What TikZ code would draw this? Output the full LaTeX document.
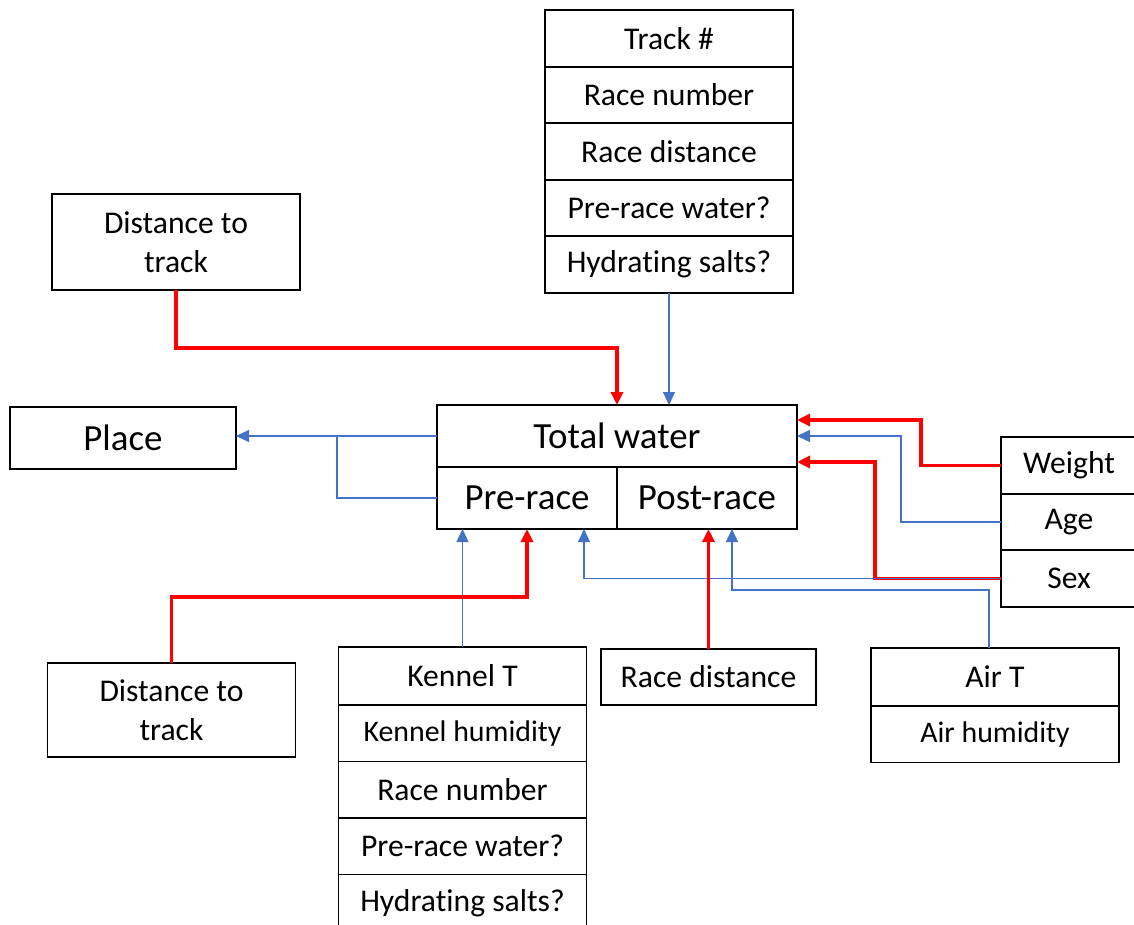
\documentclass[tikz,border=0pt]{standalone}
\usepackage{fontspec}
\setmainfont{Carlito}[Ligatures={NoCommon}]
\usetikzlibrary{arrows.meta, positioning, calc}

\definecolor{linkblue}{HTML}{4472C4}

\begin{document}
\begin{tikzpicture}[
  % Define styles for different elements
  box/.style={draw, line width=1.1pt, outer sep=0pt, minimum width=4.96cm, minimum height=1.13cm, inner sep=1pt, align=center, font=\fontsize{18}{22.5}\selectfont},
  bigbox/.style={box, font=\fontsize{21}{25}\selectfont, minimum height=1.24cm},
  redarrow/.style={-{Triangle[length=2.6mm, width=2.4mm]}, red, line width=2pt},
  bluearrow/.style={-{Triangle[length=2.6mm, width=2.4mm]}, linkblue, line width=0.7pt},
  blueline/.style={linkblue, line width=0.7pt}
]
\useasboundingbox (0,0) rectangle (22.68,-18.5);

% Top: race information
\node[box] (trackno) at (13.38,-0.77) {Track \#};
\node[box, below=0pt of trackno] (racenum) {Race number};
\node[box, below=0pt of racenum] (racedist) {Race distance};
\node[box, below=0pt of racedist] (prewater) {Pre-race water?};
\node[box, below=0pt of prewater] (hydsalts) {Hydrating salts?};

\node[box, minimum height=1.92cm] (disttop) at (3.52,-4.84) {Distance to\\track};

% Middle: outcomes
\node[bigbox, minimum width=4.52cm] (place) at (2.46,-8.76) {Place};
\node[bigbox, minimum width=7.2cm] (total) at (12.34,-8.72) {Total water};
\node[bigbox, minimum width=3.6cm, anchor=north west] (pre) at (total.south west) {Pre-race};
\node[bigbox, minimum width=3.6cm, anchor=north east] (post) at (total.south east) {Post-race};

% Right: dog information
\node[box, minimum width=2.72cm] (weight) at (21.38,-9.31) {Weight};
\node[box, minimum width=2.72cm, below=0pt of weight] (age) {Age};
\node[box, minimum width=2.72cm, below=0pt of age] (sex) {Sex};

% Bottom: kennel and race conditions
\node[box, minimum height=1.88cm] (distbot) at (3.43,-14.2) {Distance to\\track};

\node[box, minimum height=1.16cm] (kennelT) at (9.25,-13.52) {Kennel T};
\node[box, below=0pt of kennelT, font=\fontsize{17}{21}\selectfont] (kennelhum) {Kennel humidity};
\node[box, below=0pt of kennelhum] (kracenum) {Race number};
\node[box, below=0pt of kracenum] (kprewater) {Pre-race water?};
\node[box, below=0pt of kprewater] (khydsalts) {Hydrating salts?};

\node[box, minimum width=4.3cm] (racedistb) at (14.17,-13.54) {Race distance};

\node[box, minimum height=1.16cm] (airT) at (19.9,-13.54) {Air T};
\node[box, below=0pt of airT, font=\fontsize{17}{21}\selectfont] (airhum) {Air humidity};

% Connections into total water
\draw[redarrow] (disttop.south) -- ++(0,-1.16) -| (total.north);
\draw[bluearrow] (hydsalts) -- (hydsalts |- total.north);
\draw[redarrow] (weight.west) -- ++(-1.6,0) |- ($(total.north east)+(0,-0.3)$);
\draw[bluearrow] (age.west) -- ++(-2,0) |- (total.east);
\draw[redarrow] (sex.west) -- ++(-2.52,0) |- ($(total.south east)+(0,0.1)$);

% Connections into pre-race and post-race
\draw[bluearrow] (sex.west) -| ($(pre.south east)+(-0.66,0)$);
\draw[bluearrow] ($(airT.north)+(-0.12,0)$) -- ++(0,1.16) -| ($(post.south)+(0.5,0)$);
\draw[redarrow] (racedistb) -- (racedistb |- post.south);
\draw[bluearrow] (kennelT) -- (kennelT |- pre.south);
\draw[redarrow] (distbot.north) -- ++(0,1.32) -| (pre.south);

% Water to place
\draw[blueline] (pre.west) -- ++(-2,0) |- (total.west);
\draw[bluearrow] (total.west) -- (total.west -| place.east);

\end{tikzpicture}
\end{document}
